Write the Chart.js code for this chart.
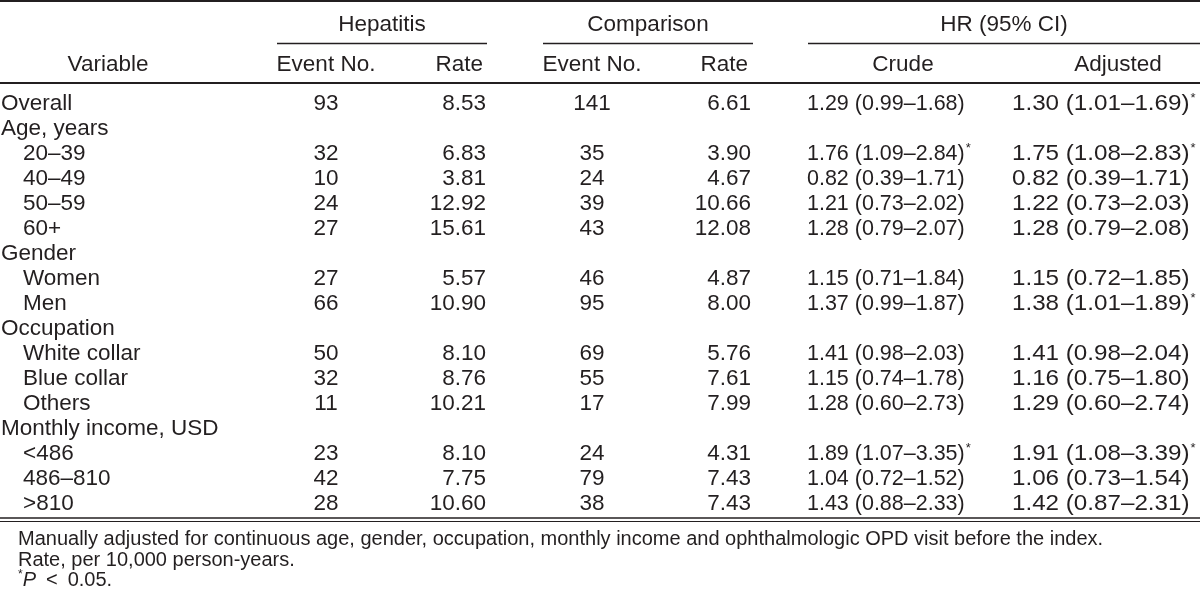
<!DOCTYPE html>
<html>
<head>
<meta charset="utf-8">
<script src="https://cdn.jsdelivr.net/npm/chart.js@4.4.1/dist/chart.umd.min.js"></script>
<style>
    html, body { margin: 0; padding: 0; background: #fff; }
    .wrap { width: 1200px; height: 591px; position: relative; }
</style>
</head>
<body>
<div class="wrap"><canvas id="tableChart"></canvas></div>
<script>
// Table rows
const variables = ['Overall', 'Age, years', '20–39', '40–49', '50–59', '60+', 'Gender', 'Women', 'Men',
    'Occupation', 'White collar', 'Blue collar', 'Others', 'Monthly income, USD', '<486', '486–810', '>810'];
const indentLevel = [0, 0, 1, 1, 1, 1, 0, 1, 1, 0, 1, 1, 1, 0, 1, 1, 1];

// Hepatitis group
const hepEvents = [93, null, 32, 10, 24, 27, null, 27, 66, null, 50, 32, 11, null, 23, 42, 28];
const hepRates = [8.53, null, 6.83, 3.81, 12.92, 15.61, null, 5.57, 10.90, null, 8.10, 8.76, 10.21, null, 8.10, 7.75, 10.60];

// Comparison group
const cmpEvents = [141, null, 35, 24, 39, 43, null, 46, 95, null, 69, 55, 17, null, 24, 79, 38];
const cmpRates = [6.61, null, 3.90, 4.67, 10.66, 12.08, null, 4.87, 8.00, null, 5.76, 7.61, 7.99, null, 4.31, 7.43, 7.43];

// Hazard ratios (95% CI)
const crudeHR = [1.29, null, 1.76, 0.82, 1.21, 1.28, null, 1.15, 1.37, null, 1.41, 1.15, 1.28, null, 1.89, 1.04, 1.43];
const crudeLo = [0.99, null, 1.09, 0.39, 0.73, 0.79, null, 0.71, 0.99, null, 0.98, 0.74, 0.60, null, 1.07, 0.72, 0.88];
const crudeHi = [1.68, null, 2.84, 1.71, 2.02, 2.07, null, 1.84, 1.87, null, 2.03, 1.78, 2.73, null, 3.35, 1.52, 2.33];
const adjHR = [1.30, null, 1.75, 0.82, 1.22, 1.28, null, 1.15, 1.38, null, 1.41, 1.16, 1.29, null, 1.91, 1.06, 1.42];
const adjLo = [1.01, null, 1.08, 0.39, 0.73, 0.79, null, 0.72, 1.01, null, 0.98, 0.75, 0.60, null, 1.08, 0.73, 0.87];
const adjHi = [1.69, null, 2.83, 1.71, 2.03, 2.08, null, 1.85, 1.89, null, 2.04, 1.80, 2.74, null, 3.39, 1.54, 2.31];

const footnotes = [
    'Manually adjusted for continuous age, gender, occupation, monthly income and ophthalmologic OPD visit before the index.',
    'Rate, per 10,000 person-years.'
];

const FONT = '"Liberation Sans", Arial, Helvetica, sans-serif';
const INK = '#231f20';

function fmtCI(hr, lo, hi) {
    return hr.toFixed(2) + ' (' + lo.toFixed(2) + '–' + hi.toFixed(2) + ')';
}

// draws the table text and rules on top of the (empty) chart area
const tablePlugin = {
    id: 'tableText',
    afterDraw(chart) {
        const { ctx } = chart;
        const x = chart.scales.x;
        const y = chart.scales.y;
        const W = chart.width;

        const colHepEvent = x.getPixelForValue(326);
        const colHepRate = x.getPixelForValue(486);
        const colCmpEvent = x.getPixelForValue(592);
        const colCmpRate = x.getPixelForValue(751);
        const colCrude = x.getPixelForValue(807);
        const colAdj = x.getPixelForValue(1012);

        ctx.save();
        ctx.fillStyle = INK;
        ctx.strokeStyle = INK;
        ctx.textBaseline = 'alphabetic';

        const size = 22.5;
        const mid = size * 0.36;
        ctx.font = size + 'px ' + FONT;

        function txt(s, px, py, align) {
            ctx.textAlign = align;
            ctx.fillText(s, px, py + mid);
        }
        // left aligned text squeezed / stretched horizontally, returns drawn width
        function txtScaled(s, px, py, sx) {
            ctx.save();
            ctx.textAlign = 'left';
            ctx.translate(px, py + mid);
            ctx.scale(sx, 1);
            ctx.fillText(s, 0, 0);
            ctx.restore();
            return ctx.measureText(s).width * sx;
        }
        function star(px, py) {
            ctx.save();
            ctx.font = '13px ' + FONT;
            ctx.textAlign = 'left';
            ctx.fillText('*', px + 1, py + mid - 8);
            ctx.restore();
        }
        function rule(x1, x2, py, w) {
            ctx.lineWidth = w;
            ctx.beginPath();
            ctx.moveTo(x1, py);
            ctx.lineTo(x2, py);
            ctx.stroke();
        }

        // header
        const top = y.getPixelForValue(0);
        const h1 = top - 79, h2 = top - 39;
        txt('Hepatitis', (x.getPixelForValue(277) + x.getPixelForValue(487)) / 2, h1, 'center');
        txt('Comparison', (x.getPixelForValue(543) + x.getPixelForValue(753)) / 2, h1, 'center');
        txt('HR (95% CI)', (x.getPixelForValue(808) + W) / 2, h1, 'center');
        txt('Variable', x.getPixelForValue(108), h2, 'center');
        txt('Event No.', colHepEvent, h2, 'center');
        txt('Rate', colHepRate - 3, h2, 'right');
        txt('Event No.', colCmpEvent, h2, 'center');
        txt('Rate', colCmpRate - 3, h2, 'right');
        txt('Crude', x.getPixelForValue(903), h2, 'center');
        txt('Adjusted', x.getPixelForValue(1118), h2, 'center');

        rule(0, W, 1, 2);
        rule(x.getPixelForValue(277), x.getPixelForValue(487), top - 58.5, 1.5);
        rule(x.getPixelForValue(543), x.getPixelForValue(753), top - 58.5, 1.5);
        rule(x.getPixelForValue(808), W, top - 58.5, 1.5);
        rule(0, W, top - 19, 2);

        // body rows
        variables.forEach((v, i) => {
            const py = y.getPixelForValue(i);
            txt(v, 1 + indentLevel[i] * 22, py, 'left');
            if (hepEvents[i] === null) return;
            txt(String(hepEvents[i]), colHepEvent, py, 'center');
            txt(hepRates[i].toFixed(2), colHepRate, py, 'right');
            txt(String(cmpEvents[i]), colCmpEvent, py, 'center');
            txt(cmpRates[i].toFixed(2), colCmpRate, py, 'right');
            const cw = txtScaled(fmtCI(crudeHR[i], crudeLo[i], crudeHi[i]), colCrude, py, 0.955);
            if (crudeLo[i] > 1) star(colCrude + cw, py);
            const aw = txtScaled(fmtCI(adjHR[i], adjLo[i], adjHi[i]), colAdj, py, 1.075);
            if (adjLo[i] > 1) star(colAdj + aw, py);
        });

        // bottom double rule
        const bottom = y.getPixelForValue(variables.length - 1);
        rule(0, W, bottom + 16, 1.5);
        rule(0, W, bottom + 19.5, 1);

        // footnotes
        ctx.font = '20px ' + FONT;
        ctx.textAlign = 'left';
        const fx = 18;
        footnotes.forEach((f, k) => {
            ctx.fillText(f, fx, bottom + 36 + k * 20.5 + 7);
        });
        const fy = bottom + 36 + 2 * 20.5 + 7;
        ctx.font = '12px ' + FONT;
        ctx.fillText('*', fx, fy - 8);
        let cx = fx + ctx.measureText('*').width;
        ctx.font = 'italic 20px ' + FONT;
        ctx.fillText('P', cx, fy);
        cx += ctx.measureText('P').width;
        ctx.font = '20px ' + FONT;
        ctx.fillText('\u2002<\u20020.05.', cx, fy);

        ctx.restore();
    }
};

const ctx = document.getElementById('tableChart').getContext('2d');
const tableChart = new Chart(ctx, {
    type: 'scatter',
    data: { datasets: [] },
    options: {
        responsive: true,
        maintainAspectRatio: false,
        animation: false,
        layout: { padding: { left: 0, right: 0, top: 89.5, bottom: 76.5 } },
        plugins: { legend: { display: false }, tooltip: { enabled: false } },
        scales: {
            x: { type: 'linear', min: 0, max: 1200, display: false },
            y: { type: 'category', labels: variables, offset: true, display: false }
        }
    },
    plugins: [tablePlugin]
});
</script>
</body>
</html>
